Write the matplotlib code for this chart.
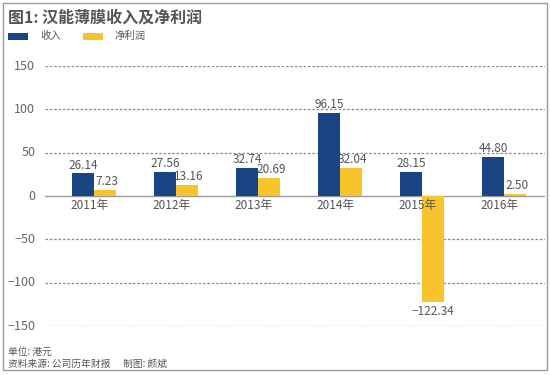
import matplotlib
matplotlib.use("Agg")
import matplotlib.pyplot as plt
from matplotlib.patches import Rectangle

plt.rcParams['font.family'] = ['Noto Sans CJK SC', 'DejaVu Sans']

years = ["2011年", "2012年", "2013年", "2014年", "2015年", "2016年"]
revenue = [26.14, 27.56, 32.74, 96.15, 28.15, 44.80]
profit = [7.23, 13.16, 20.69, 32.04, -122.34, 2.50]
yticks = [150, 100, 50, 0, -50, -100, -150]

BLUE = "#1a4585"
YELLOW = "#f7c52b"
GREY = "#666666"

W, H = 550, 375
fig = plt.figure(figsize=(W / 100, H / 100), dpi=100)
fig.patch.set_facecolor("white")

# border
fig.add_artist(Rectangle((3 / W, 5 / H), 544 / W, 367 / H, transform=fig.transFigure,
                         fill=False, edgecolor="#9a9a9a", linewidth=1.0))

ax = fig.add_axes([45 / W, (H - 326) / H, 500 / W, 260 / H])
ax.set_xlim(-0.6, 5.5)
ax.set_ylim(-150, 150)
ax.axis("off")

for v in yticks:
    if v == 0:
        ax.axhline(0, color="#999999", linewidth=1.0, zorder=1)
    else:
        ax.axhline(v, color="#888888", linewidth=0.9, linestyle=(0, (2, 1.5)), zorder=1)
    lab = str(v) if v >= 0 else "\u2212" + str(-v)
    ax.text(-0.72, v, lab, ha="right", va="center", fontsize=9, color=GREY,
            transform=ax.transData, clip_on=False)

x = list(range(len(years)))
bw = 0.27
ax.bar([i - bw / 2 for i in x], revenue, width=bw, color=BLUE, zorder=2)
ax.bar([i + bw / 2 for i in x], profit, width=bw, color=YELLOW, zorder=2)

for i in x:
    ax.text(i - bw / 2, revenue[i] + 2, f"{revenue[i]:.2f}", ha="center", va="bottom",
            fontsize=8.5, color="#555555")
    p = profit[i]
    if p >= 0:
        ax.text(i + bw / 2 + 0.02, p + 2, f"{p:.2f}", ha="center", va="bottom",
                fontsize=8.5, color="#555555")
    else:
        ax.text(i + bw / 2, p - 3, "\u2212" + f"{-p:.2f}", ha="center", va="top",
                fontsize=8.5, color="#555555")
    ax.text(i - 0.05, -4, years[i], ha="center", va="top", fontsize=8.5, color="#555555")

fig.text(8 / W, 1 - 18 / H, "图1: 汉能薄膜收入及净利润", fontsize=11.5, fontweight="bold",
         color="#555555", va="center", ha="left")

# legend
fig.add_artist(Rectangle((8 / W, 1 - 40 / H), 20 / W, 7 / H, transform=fig.transFigure,
                         facecolor=BLUE, edgecolor="none"))
fig.text(40 / W, 1 - 36 / H, "收入", fontsize=7.5, color="#555555", va="center")
fig.add_artist(Rectangle((83 / W, 1 - 40 / H), 20 / W, 7 / H, transform=fig.transFigure,
                         facecolor=YELLOW, edgecolor="none"))
fig.text(115 / W, 1 - 36 / H, "净利润", fontsize=7.5, color="#555555", va="center")

fig.text(8 / W, 1 - 352 / H, "单位: 港元", fontsize=7, color="#555555", va="center",
         style="italic")
fig.text(8 / W, 1 - 364 / H, "资料来源: 公司历年财报      制图: 颜斌", fontsize=7,
         color="#555555", va="center", style="italic")

fig.savefig("out.png", dpi=100, facecolor="white")
